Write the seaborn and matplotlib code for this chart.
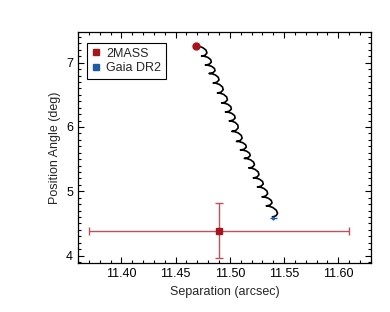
import numpy as np
import pandas as pd
import seaborn as sns
import matplotlib.pyplot as plt
from matplotlib.ticker import MultipleLocator
from matplotlib.lines import Line2D

# measurements
mass_sep, mass_sep_err = 11.49, 0.12
mass_pa, mass_pa_err = 4.39, 0.43
gaia_sep, gaia_sep_err = 11.540, 0.003
gaia_pa, gaia_pa_err = 4.59, 0.03

# predicted track: cusps of the parallax loops
cusp_sep = [11.4689, 11.4739, 11.4774, 11.4808, 11.4846, 11.4885, 11.4924,
            11.4959, 11.4994, 11.5018, 11.5061, 11.5097, 11.5133, 11.5174,
            11.5216, 11.5254, 11.5296, 11.5335, 11.5392]
cusp_pa = [7.259, 7.104, 6.964, 6.832, 6.685, 6.530, 6.374, 6.234, 6.095,
           5.932, 5.776, 5.644, 5.512, 5.364, 5.209, 5.069, 4.914, 4.774, 4.604]
# shape of one loop between two cusps (fraction along the step, bulge in arcsec)
loop_frac = [0.02, 0.15, 0.4, 0.68, 0.9, 0.98]
loop_bulge = [0.0022, 0.0052, 0.0070, 0.0066, 0.0040, 0.0016]

track_sep, track_pa = [cusp_sep[0]], [cusp_pa[0]]
for i in range(len(cusp_sep) - 1):
    ds = cusp_sep[i + 1] - cusp_sep[i]
    dp = cusp_pa[i + 1] - cusp_pa[i]
    for f, b in zip(loop_frac, loop_bulge):
        track_sep.append(cusp_sep[i] + f * ds + b)
        track_pa.append(cusp_pa[i] + f * dp)
    track_sep.append(cusp_sep[i + 1])
    track_pa.append(cusp_pa[i + 1])
track = pd.DataFrame({"sep": track_sep, "pa": track_pa})

red = "#a8141c"
red_bar = "#c0505a"
blue = "#1f5aa6"

sns.set_style("ticks")
plt.rcParams["font.family"] = ["Liberation Sans", "DejaVu Sans"]
plt.rcParams["font.size"] = 9

fig = plt.figure(figsize=(3.9, 3.12), dpi=100)
ax = fig.add_axes([0.2, 0.156, 0.751, 0.742])

sns.lineplot(data=track, x="sep", y="pa", sort=False, estimator=None,
             color="black", lw=1.2, ax=ax)
ax.plot(cusp_sep[0], cusp_pa[0], "o", color=red, ms=5, zorder=5)

ax.errorbar(mass_sep, mass_pa, xerr=mass_sep_err, yerr=mass_pa_err,
            fmt="none", ecolor=red_bar, elinewidth=1.0, capsize=3,
            capthick=1.0, zorder=3)
ax.plot(mass_sep, mass_pa, "s", color=red, ms=4.5, zorder=4)
ax.errorbar(gaia_sep, gaia_pa, xerr=gaia_sep_err, yerr=gaia_pa_err,
            fmt="s", color=blue, ecolor=blue, elinewidth=1.0, ms=1.2, zorder=6)

ax.set_xlim(11.36, 11.63)
ax.set_ylim(3.88, 7.48)
ax.xaxis.set_major_locator(MultipleLocator(0.05))
ax.xaxis.set_minor_locator(MultipleLocator(0.01))
ax.yaxis.set_major_locator(MultipleLocator(1))
ax.yaxis.set_minor_locator(MultipleLocator(0.1))
ax.xaxis.set_major_formatter(plt.FormatStrFormatter("%.2f"))
ax.tick_params(which="both", direction="in", top=True, right=True,
               colors="black", width=0.8, labelsize=9)
ax.tick_params(which="major", length=4.5)
ax.tick_params(which="minor", length=2.2)
for s in ax.spines.values():
    s.set_linewidth(0.9)
    s.set_color("black")

ax.set_xlabel("Separation (arcsec)", fontsize=9)
ax.set_ylabel("Position Angle (deg)", fontsize=9)

handles = [Line2D([], [], ls="", marker="s", color=red, ms=5),
           Line2D([], [], ls="", marker="s", color=blue, ms=5)]
leg = ax.legend(handles, ["2MASS", "Gaia DR2"], loc="upper left",
                bbox_to_anchor=(0.03, 0.95), borderaxespad=0, fancybox=False,
                framealpha=1, edgecolor="black", handlelength=0.8,
                handletextpad=0.4, borderpad=0.35, labelspacing=0.2, fontsize=9)
leg.get_frame().set_linewidth(0.8)

fig.savefig("out.png", dpi=100)
